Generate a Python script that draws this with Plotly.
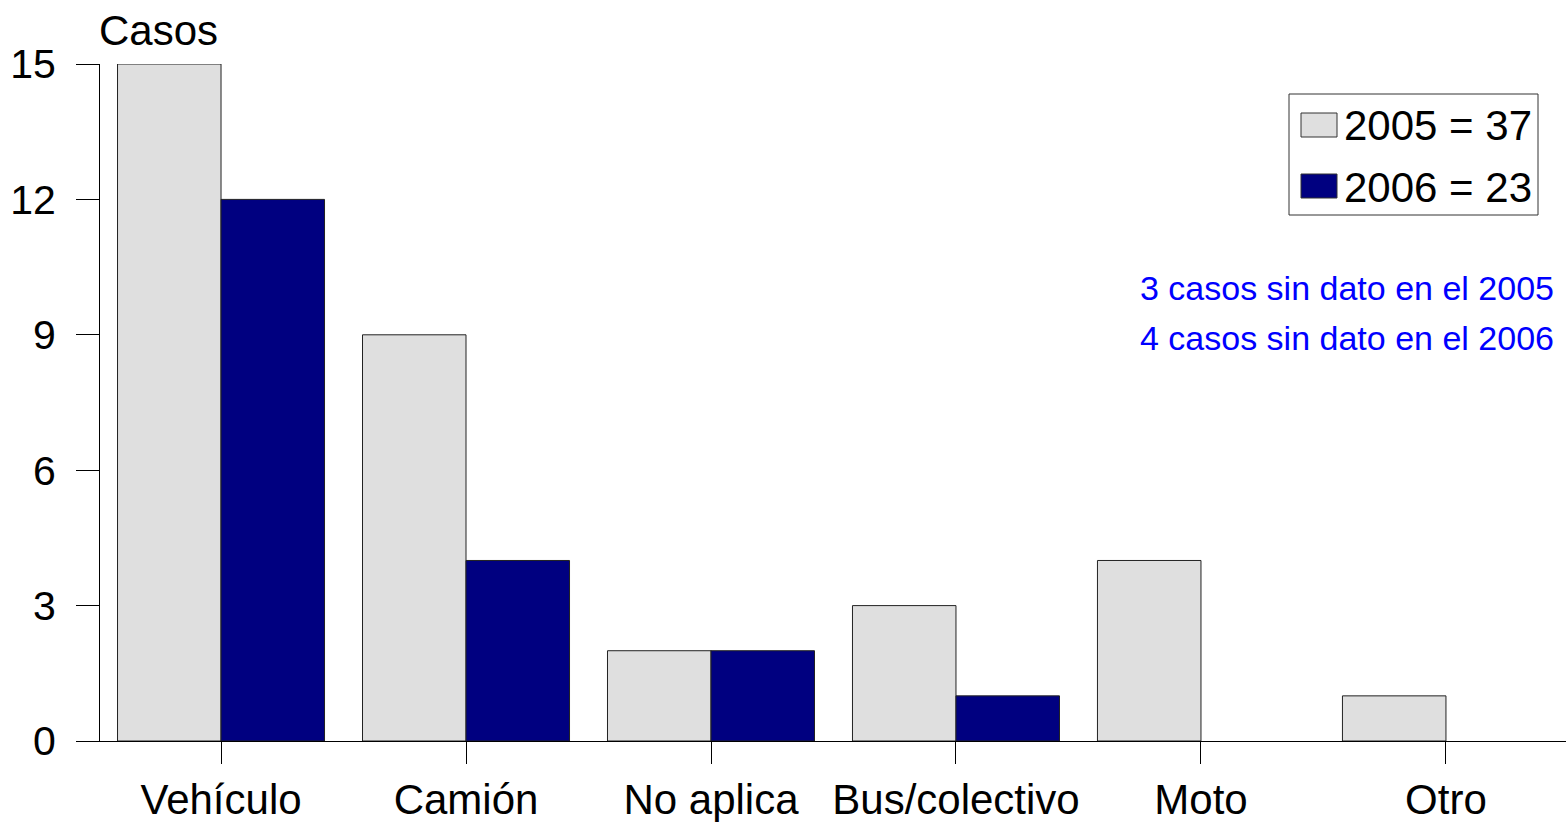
import plotly.graph_objects as go

categories = ["Vehículo", "Camión", "No aplica", "Bus/colectivo", "Moto", "Otro"]
series_names = ["2005 = 37", "2006 = 23"]
values_2005 = [15, 9, 2, 3, 4, 1]
values_2006 = [12, 4, 2, 1, 0, 0]
y_ticks = [0, 3, 6, 9, 12, 15]
notes = ["3 casos sin dato en el 2005", "4 casos sin dato en el 2006"]

colors = ["#DFDFDF", "#000080"]
FONT = "Liberation Sans, Arial, sans-serif"

fig = go.Figure()
for name, vals, col in zip(series_names, [values_2005, values_2006], colors):
    fig.add_trace(go.Bar(
        x=categories, y=vals, name=name,
        marker=dict(color=col,
                    line=dict(color="#222222", width=[1 if v else 0 for v in vals])),
        showlegend=False,
    ))

W, H = 1566, 822
ml, mr, mt, mb = 100, 0, 64, 81
pw, ph = W - ml - mr, H - mt - mb

fig.update_layout(
    width=W, height=H,
    margin=dict(l=ml, r=mr, t=mt, b=mb, pad=0),
    paper_bgcolor="white", plot_bgcolor="white",
    barmode="group", bargap=0.155, bargroupgap=0,
    font=dict(family=FONT, size=42, color="black"),
    xaxis=dict(
        type="category", range=[-0.494, 5.49],
        showline=True, linecolor="black", linewidth=1,
        ticks="outside", ticklen=22, tickcolor="black", tickwidth=1,
        showgrid=False, zeroline=False,
        tickfont=dict(family=FONT, size=42),
    ),
    yaxis=dict(
        range=[0, 15], tickvals=y_ticks,
        showline=True, linecolor="black", linewidth=1,
        ticks="outside", ticklen=23, tickcolor="black", tickwidth=1,
        showgrid=False, zeroline=False,
        ticklabelstandoff=12,
        tickfont=dict(family=FONT, size=41),
    ),
)

def px_x(x):
    return (x - ml) / pw

def px_y(y):
    return 1 - (y - mt) / ph

# Axis title
fig.add_annotation(text="Casos", xref="paper", yref="paper",
                   x=px_x(158), y=px_y(30), xanchor="center", yanchor="middle",
                   showarrow=False, font=dict(family=FONT, size=42, color="black"))

# Notes
for i, t in enumerate(notes):
    fig.add_annotation(text=t, xref="paper", yref="paper",
                       x=px_x(1556), y=px_y(288 + 50 * i), xanchor="right", yanchor="middle",
                       showarrow=False,
                       font=dict(family=FONT, size=34, color="#0000FF"))

# Custom legend
fig.add_shape(type="rect", xref="paper", yref="paper",
              x0=px_x(1289), x1=px_x(1538), y0=px_y(94), y1=px_y(215),
              line=dict(color="#333333", width=1), fillcolor="white", layer="above")
for i, (name, col) in enumerate(zip(series_names, colors)):
    yc = 125 + 61 * i
    fig.add_shape(type="rect", xref="paper", yref="paper",
                  x0=px_x(1301), x1=px_x(1337), y0=px_y(yc - 12), y1=px_y(yc + 12),
                  line=dict(color="#333333", width=1), fillcolor=col, layer="above")
    fig.add_annotation(text=name, xref="paper", yref="paper",
                       x=px_x(1342), y=px_y(yc + 1), xanchor="left", yanchor="middle",
                       showarrow=False, font=dict(family=FONT, size=42, color="black"))

fig.write_html("out.html", config={"displayModeBar": False},
               post_script="document.body.style.margin='0px';document.body.style.padding='0px';")
